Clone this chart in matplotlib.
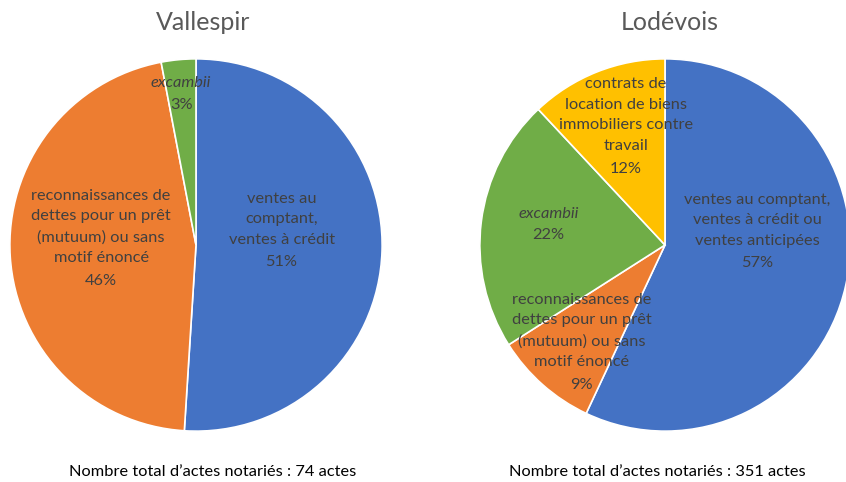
import matplotlib.pyplot as plt

plt.rcParams['font.family'] = ['Lato', 'DejaVu Sans']

# Vallespir
v_labels = ['ventes au\ncomptant,\nventes à crédit', 'reconnaissances de\ndettes pour un prêt\n(mutuum) ou sans\nmotif énoncé', 'excambii']
v_values = [51, 46, 3]
v_total = 74

# Lodévois
l_labels = ['ventes au comptant,\nventes à crédit ou\nventes anticipées', 'reconnaissances de\ndettes pour un prêt\n(mutuum) ou sans\nmotif énoncé', 'excambii', 'contrats de\nlocation de biens\nimmobiliers contre\ntravail']
l_values = [57, 9, 22, 12]
l_total = 351

colors = ['#4472C4', '#ED7D31', '#70AD47', '#FFC000']
txt_col = '#404040'
line_h = 15.5  # points between label lines

fig = plt.figure(figsize=(8.46, 4.82), dpi=100)

def draw(ax, values, labels, pos, title, total, tx, fx):
    ax.pie(values, colors=colors[:len(values)], startangle=90, counterclock=False,
           radius=1, wedgeprops=dict(edgecolor='white', linewidth=1.2))
    ax.set_xlim(-1.01, 1.01)
    ax.set_ylim(-1.01, 1.01)
    ax.set_aspect('auto')
    ax.axis('off')
    kw = dict(ha='center', va='center', fontsize=11.8, color=txt_col,
              linespacing=1.6, textcoords='offset points')
    for lab, v, (x, y) in zip(labels, values, pos):
        n = lab.count('\n') + 1
        style = 'italic' if lab == 'excambii' else 'normal'
        ax.annotate(lab, (x, y), xytext=(0, line_h / 2), style=style, **kw)
        ax.annotate(f'{v}%', (x, y), xytext=(0, -n * line_h / 2), **kw)
    fig.text(tx, 1 - 22 / 482, title, ha='center', va='center', fontsize=18, color='#595959')
    fig.text(fx, 1 - 472 / 482, f'Nombre total d\u2019actes notariés : {total} actes',
             ha='center', va='center', fontsize=11.8, color='black')

ax1 = fig.add_axes([8 / 846, 1 - 433 / 482, 376 / 846, 376 / 482])
draw(ax1, v_values, v_labels, [(0.46, 0.08), (-0.51, 0.04), (-0.08, 0.81)],
     'Vallespir', v_total, 203 / 846, 213 / 846)

ax2 = fig.add_axes([478 / 846, 1 - 433 / 482, 374 / 846, 376 / 482])
draw(ax2, l_values, l_labels, [(0.50, 0.075), (-0.45, -0.52), (-0.63, 0.11), (-0.21, 0.64)],
     'Lodévois', l_total, 670 / 846, 657 / 846)

fig.savefig('out.png', dpi=100)
